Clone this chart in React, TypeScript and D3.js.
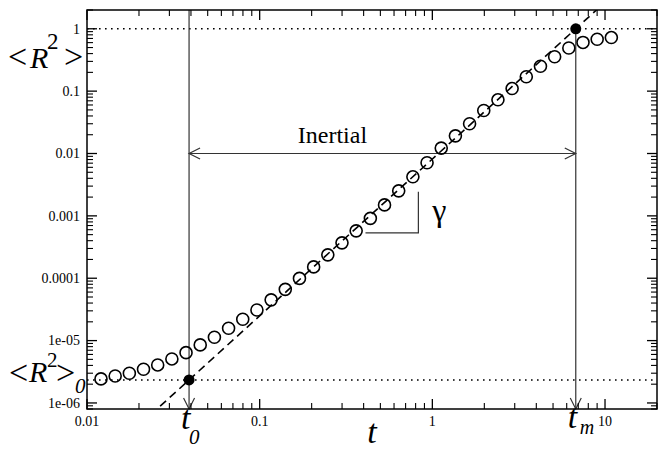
import React from 'react';
import * as d3 from 'd3';

// time values of the open circles
const times = [
  0.01205, 0.01456, 0.01759, 0.02125, 0.02567, 0.03101, 0.03746, 0.04526, 0.05468, 0.06606,
  0.0798, 0.09641, 0.1165, 0.1407, 0.17, 0.2054, 0.2481, 0.2997, 0.3621, 0.4375,
  0.5285, 0.6385, 0.7714, 0.9319, 1.126, 1.36, 1.643, 1.985, 2.398, 2.897,
  3.5, 4.228, 5.108, 6.171, 7.455, 9.007, 10.88,
];
// <R^2> values
const r2 = [
  2.43e-6, 2.71e-6, 2.99e-6, 3.47e-6, 4.07e-6, 5.08e-6, 6.41e-6, 8.53e-6, 1.13e-5, 1.58e-5,
  2.2e-5, 3.1e-5, 4.5e-5, 6.63e-5, 9.94e-5, 1.52e-4, 2.37e-4, 3.69e-4, 5.75e-4, 9.12e-4,
  1.5e-3, 2.52e-3, 4.23e-3, 7.1e-3, 1.22e-2, 1.92e-2, 3.0e-2, 4.9e-2, 7.26e-2, 0.11,
  0.17, 0.251, 0.356, 0.491, 0.604, 0.68, 0.723,
];

const xTicks = [0.01, 0.1, 1, 10];
const xTickLabels = ['0.01', '0.1', '1', '10'];
const yTicks = [1, 0.1, 0.01, 0.001, 0.0001, 1e-5, 1e-6];
const yTickLabels = ['1', '0.1', '0.01', '0.001', '0.0001', '1e-05', '1e-06'];

// annotation values
const t0 = 0.039;
const tm = 6.77;
const r2Zero = 2.34e-6;
const r2Sat = 1;
const inertialLevel = 0.01;
const gammaT = [0.41, 0.83];
const gammaR = [5.34e-4, 2.43e-3];

const W = 662;
const H = 450;
const L = 87, R = 657, T = 10, B = 409;
const FONT = 'Liberation Serif';

type TProps = {
  x: number;
  y: number;
  size: number;
  italic?: boolean;
  anchor?: 'start' | 'middle' | 'end';
  dy?: string;
  children: React.ReactNode;
};

function Txt({ x, y, size, italic, anchor, dy, children }: TProps) {
  return (
    <text
      x={x}
      y={y}
      dy={dy}
      fontFamily={FONT}
      fontSize={size}
      fontStyle={italic ? 'italic' : 'normal'}
      textAnchor={anchor || 'start'}
      fill="#000"
      style={{ fontFamily: FONT }}
    >
      {children}
    </text>
  );
}

export default function App() {
  const x = d3.scaleLog().domain([0.01, 20]).range([L, R]);
  const y = d3.scaleLog().domain([8e-7, 2]).range([B, T]);

  const xMinor = x.ticks().filter((v) => !xTicks.some((m) => Math.abs(m - v) / m < 1e-6));
  const yMinor = y.ticks().filter((v) => !yTicks.some((m) => Math.abs(m - v) / m < 1e-6));

  const slope = Math.log10(r2Sat / r2Zero) / Math.log10(tm / t0);
  const fitLine = (t: number) => r2Zero * Math.pow(t / t0, slope);
  const fitXs = [0.005, 40];
  const line = d3
    .line<number>()
    .x((t) => x(t))
    .y((t) => y(fitLine(t)));

  const ink = '#000';
  const annot = '#333';
  const majLen = 10;
  const minLen = 6;

  const arrowDown = (px: number, py: number) =>
    `M${px - 5.5},${py - 11} L${px},${py} L${px + 5.5},${py - 11}`;
  const arrowLeft = (px: number, py: number) =>
    `M${px + 11},${py - 5.5} L${px},${py} L${px + 11},${py + 5.5}`;
  const arrowRight = (px: number, py: number) =>
    `M${px - 11},${py - 5.5} L${px},${py} L${px - 11},${py + 5.5}`;

  return (
    <svg width={W} height={H} style={{ position: 'absolute', left: 0, top: 0, background: '#fff' }}>
      <style>{`text { font-family: 'Liberation Serif'; }`}</style>
      <defs>
        <clipPath id="plot">
          <rect x={L} y={T} width={R - L} height={B - T} />
        </clipPath>
      </defs>

      {/* dotted reference lines */}
      <line x1={L} x2={R} y1={y(r2Sat)} y2={y(r2Sat)} stroke={ink} strokeWidth={1.6} strokeDasharray="1.6,4.4" />
      <line x1={L} x2={R} y1={y(r2Zero)} y2={y(r2Zero)} stroke={ink} strokeWidth={1.6} strokeDasharray="1.6,4.4" />

      {/* dashed fit line */}
      <path d={line(fitXs) || ''} fill="none" stroke={ink} strokeWidth={1.6} strokeDasharray="8,5" clipPath="url(#plot)" />

      {/* vertical lines with arrows */}
      <line x1={x(t0)} x2={x(t0)} y1={T} y2={B} stroke={annot} strokeWidth={1.2} />
      <path d={arrowDown(x(t0), B)} fill="none" stroke={annot} strokeWidth={1.2} />
      <line x1={x(tm)} x2={x(tm)} y1={y(r2Sat)} y2={B} stroke={annot} strokeWidth={1.2} />
      <path d={arrowDown(x(tm), B)} fill="none" stroke={annot} strokeWidth={1.2} />

      {/* inertial double arrow */}
      <line x1={x(t0)} x2={x(tm)} y1={y(inertialLevel)} y2={y(inertialLevel)} stroke={annot} strokeWidth={1.2} />
      <path d={arrowLeft(x(t0), y(inertialLevel))} fill="none" stroke={annot} strokeWidth={1.2} />
      <path d={arrowRight(x(tm), y(inertialLevel))} fill="none" stroke={annot} strokeWidth={1.2} />
      <Txt x={(x(t0) + x(tm)) / 2 - 50} y={y(inertialLevel) - 11} size={24} anchor="middle">
        Inertial
      </Txt>

      {/* gamma triangle */}
      <path
        d={`M${x(gammaT[0])},${y(gammaR[0])} L${x(gammaT[1])},${y(gammaR[0])} L${x(gammaT[1])},${y(gammaR[1])}`}
        fill="none"
        stroke={annot}
        strokeWidth={1.2}
      />
      <Txt x={x(gammaT[1]) + 14} y={y(gammaR[0]) - 12} size={32}>
        γ
      </Txt>

      {/* data circles */}
      {times.map((t, i) => (
        <circle key={i} cx={x(t)} cy={y(r2[i])} r={6} fill="none" stroke={ink} strokeWidth={1.6} />
      ))}

      {/* filled markers */}
      <circle cx={x(t0)} cy={y(r2Zero)} r={5.5} fill={ink} />
      <circle cx={x(tm)} cy={y(r2Sat)} r={5.5} fill={ink} />

      {/* frame */}
      <rect x={L} y={T} width={R - L} height={B - T} fill="none" stroke={ink} strokeWidth={1.5} />

      {/* x ticks */}
      {xTicks.map((v) => (
        <g key={'xm' + v}>
          <line x1={x(v)} x2={x(v)} y1={B} y2={B - majLen} stroke={ink} strokeWidth={1.3} />
          <line x1={x(v)} x2={x(v)} y1={T} y2={T + majLen} stroke={ink} strokeWidth={1.3} />
        </g>
      ))}
      {xMinor.map((v) => (
        <g key={'xn' + v}>
          <line x1={x(v)} x2={x(v)} y1={B} y2={B - minLen} stroke={ink} strokeWidth={1.1} />
          <line x1={x(v)} x2={x(v)} y1={T} y2={T + minLen} stroke={ink} strokeWidth={1.1} />
        </g>
      ))}
      {xTicks.map((v, i) => (
        <Txt key={'xl' + v} x={x(v)} y={B + 17} size={14} anchor="middle">
          {xTickLabels[i]}
        </Txt>
      ))}

      {/* y ticks */}
      {yTicks.map((v) => (
        <g key={'ym' + v}>
          <line x1={L} x2={L + majLen} y1={y(v)} y2={y(v)} stroke={ink} strokeWidth={1.3} />
          <line x1={R} x2={R - majLen} y1={y(v)} y2={y(v)} stroke={ink} strokeWidth={1.3} />
        </g>
      ))}
      {yMinor.map((v) => (
        <g key={'yn' + v}>
          <line x1={L} x2={L + minLen} y1={y(v)} y2={y(v)} stroke={ink} strokeWidth={1.1} />
          <line x1={R} x2={R - minLen} y1={y(v)} y2={y(v)} stroke={ink} strokeWidth={1.1} />
        </g>
      ))}
      {yTicks.map((v, i) => (
        <Txt key={'yl' + v} x={L - 7} y={y(v)} dy="0.35em" size={14} anchor="end">
          {yTickLabels[i]}
        </Txt>
      ))}

      {/* top-left <R^2> label */}
      <Txt x={8} y={68} size={34}>&lt;</Txt>
      <Txt x={30} y={68} size={30} italic>R</Txt>
      <Txt x={47} y={49} size={23}>2</Txt>
      <Txt x={64} y={68} size={34}>&gt;</Txt>

      {/* bottom-left <R^2>_0 label */}
      <Txt x={9} y={384} size={34}>&lt;</Txt>
      <Txt x={29} y={382} size={30} italic>R</Txt>
      <Txt x={47} y={367} size={21}>2</Txt>
      <Txt x={56} y={384} size={34}>&gt;</Txt>
      <Txt x={75} y={393} size={21} italic>0</Txt>

      {/* x axis title and t0 / tm labels */}
      <Txt x={372} y={443} size={34} italic anchor="middle">t</Txt>
      <Txt x={x(t0) - 8} y={429} size={34} italic>t</Txt>
      <Txt x={x(t0)} y={444} size={21} italic>0</Txt>
      <Txt x={x(tm) - 8} y={428} size={34} italic>t</Txt>
      <Txt x={x(tm) + 4} y={434} size={20} italic>m</Txt>
    </svg>
  );
}
